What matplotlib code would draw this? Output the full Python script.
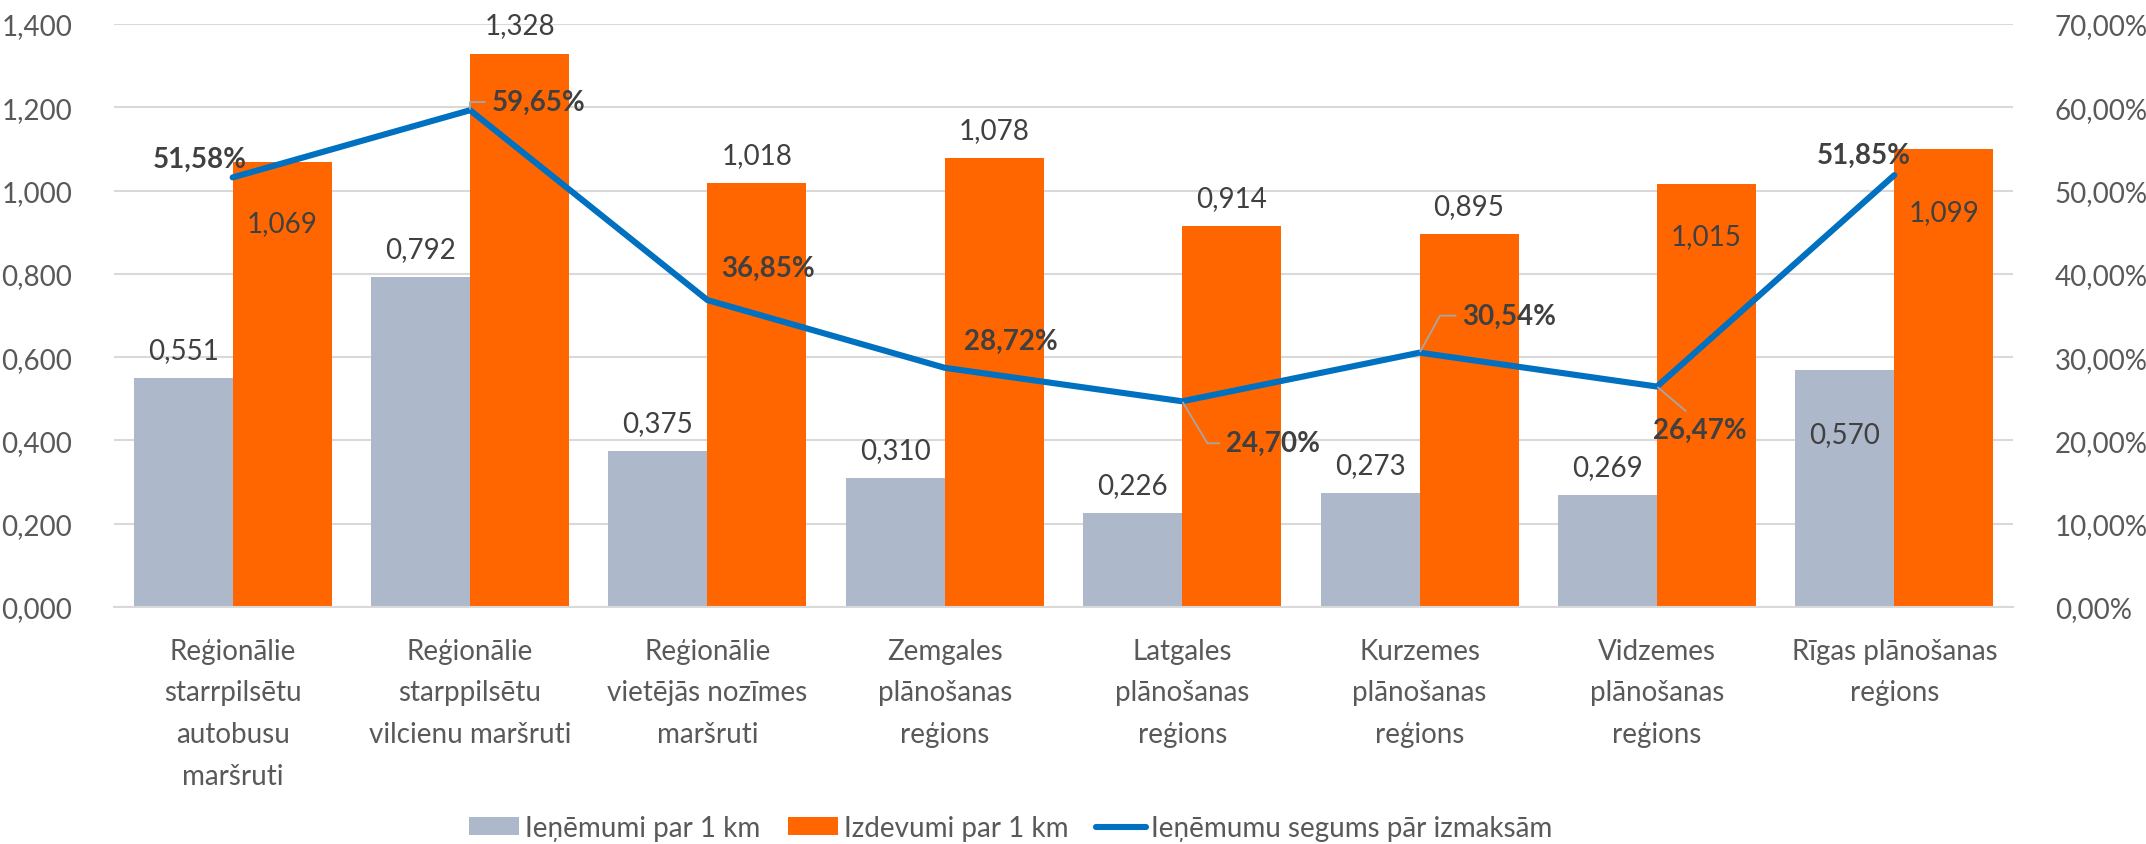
import numpy as np
import matplotlib
matplotlib.use("Agg")
import matplotlib.pyplot as plt
from matplotlib.lines import Line2D

# Data
categories = [
    "Reģionālie\nstarrpilsētu\nautobusu\nmaršruti",
    "Reģionālie\nstarppilsētu\nvilcienu maršruti",
    "Reģionālie\nvietējās nozīmes\nmaršruti",
    "Zemgales\nplānošanas\nreģions",
    "Latgales\nplānošanas\nreģions",
    "Kurzemes\nplānošanas\nreģions",
    "Vidzemes\nplānošanas\nreģions",
    "Rīgas plānošanas\nreģions",
]
revenue = [0.551, 0.792, 0.375, 0.310, 0.226, 0.273, 0.269, 0.570]
costs = [1.069, 1.328, 1.018, 1.078, 0.914, 0.895, 1.015, 1.099]
coverage = [0.5158, 0.5965, 0.3685, 0.2872, 0.2470, 0.3054, 0.2647, 0.5185]

series_names = ["Ieņēmumi par 1 km", "Izdevumi par 1 km", "Ieņēmumu segums pār izmaksām"]

# label placement (pixel offsets of the label centre from the mark)
revenue_dy = [30, 30, 30, 30, 30, 30, 30, -62]
costs_dy = [-59, 31, 30, 30, 30, 30, -50, -61]
coverage_off = [(-33, 21), (69, 10), (61, 34), (66, 29), (91, -40), (90, 39), (43, -41), (-31, 22)]
# leader lines: index -> (connectionstyle, relpos)
leaders = {
    1: ("angle,angleA=0,angleB=90,rad=0", (0.0, 0.5)),
    4: ("angle,angleA=0,angleB=-59,rad=0", (0.0, 0.5)),
    5: ("angle,angleA=0,angleB=61,rad=0", (0.0, 0.5)),
    6: ("arc3", (0.5, 0.75)),
}

GRAY = "#ADB9CA"
ORANGE = "#FF6600"
BLUE = "#0070C0"
GRID = "#D9D9D9"
TICK = "#595959"
LABEL = "#404040"
FS = 20
CAP = 10  # half cap height in pixels at FS

plt.rcParams["font.family"] = ["Lato", "DejaVu Sans"]

fig = plt.figure(figsize=(21.46, 8.45), dpi=100)
ax = fig.add_axes([114 / 2146, 1 - 608 / 845, (2013 - 114) / 2146, (608 - 25) / 845])
ax2 = ax.twinx()

x = np.arange(len(categories))
w = 0.417
b1 = ax.bar(x - w / 2, revenue, w, color=GRAY, label=series_names[0], zorder=2)
b2 = ax.bar(x + w / 2, costs, w, color=ORANGE, label=series_names[1], zorder=2)

ax.set_xlim(-0.5, len(categories) - 0.5)
ax.set_ylim(0, 1.4)
ax.set_yticks(np.arange(0, 1.41, 0.2))
ax.set_yticklabels([f"{v:.3f}".replace(".", ",") for v in np.arange(0, 1.41, 0.2)])
ax.set_xticks(x)
ax.set_xticklabels(categories, linespacing=1.75)
ax.tick_params(axis="y", length=0, pad=30, labelsize=FS, labelcolor=TICK)
ax.tick_params(axis="x", length=0, pad=22, labelsize=FS, labelcolor=TICK)
ax.yaxis.grid(True, color=GRID, lw=1.5)
ax.set_axisbelow(True)
for s in ["top", "left", "right"]:
    ax.spines[s].set_visible(False)
ax.spines["bottom"].set_color(GRID)
ax.spines["bottom"].set_linewidth(1.5)

ax2.set_ylim(0, 0.7)
ax2.set_yticks(np.arange(0, 0.71, 0.1))
ax2.set_yticklabels([f"{v * 100:.2f}%".replace(".", ",") for v in np.arange(0, 0.71, 0.1)])
ax2.tick_params(axis="y", length=0, pad=30, labelsize=FS, labelcolor=TICK)
for s in ax2.spines.values():
    s.set_visible(False)

ax2.plot(x, coverage, color=BLUE, lw=4.4, solid_capstyle="round",
         solid_joinstyle="round", label=series_names[2], zorder=3)


def fmt3(v):
    return f"{v:.3f}".replace(".", ",")


for xi, v, dy in zip(x - w / 2, revenue, revenue_dy):
    ax.annotate(fmt3(v), (xi, v), xytext=(0, dy - CAP), textcoords="offset pixels",
                ha="center", va="baseline", fontsize=FS, color=LABEL, zorder=4)
for xi, v, dy in zip(x + w / 2, costs, costs_dy):
    ax.annotate(fmt3(v), (xi, v), xytext=(0, dy - CAP), textcoords="offset pixels",
                ha="center", va="baseline", fontsize=FS, color=LABEL, zorder=4)

for i, (xi, v) in enumerate(zip(x, coverage)):
    dx, dy = coverage_off[i]
    txt = f"{v * 100:.2f}%".replace(".", ",")
    kw = {}
    if i in leaders:
        cs, rp = leaders[i]
        kw["arrowprops"] = dict(arrowstyle="-", color="#A6A6A6", lw=1.3,
                                connectionstyle=cs, relpos=rp,
                                shrinkA=3, shrinkB=1)
    ax2.annotate(txt, (xi, v), xytext=(dx, dy - CAP), textcoords="offset pixels",
                 ha="center", va="baseline", fontsize=FS, fontweight="bold",
                 color=LABEL, zorder=5, **kw)

handles = [b1, b2, Line2D([], [], color=BLUE, lw=4.4, solid_capstyle="round")]
fig.legend(handles, series_names, loc="center", bbox_to_anchor=(1011 / 2146, 16 / 845),
           ncol=3, frameon=False, fontsize=FS, labelcolor=TICK,
           handlelength=1.8, handleheight=0.6, handletextpad=0.2, columnspacing=1.0)

fig.savefig("out.png", dpi=100)
